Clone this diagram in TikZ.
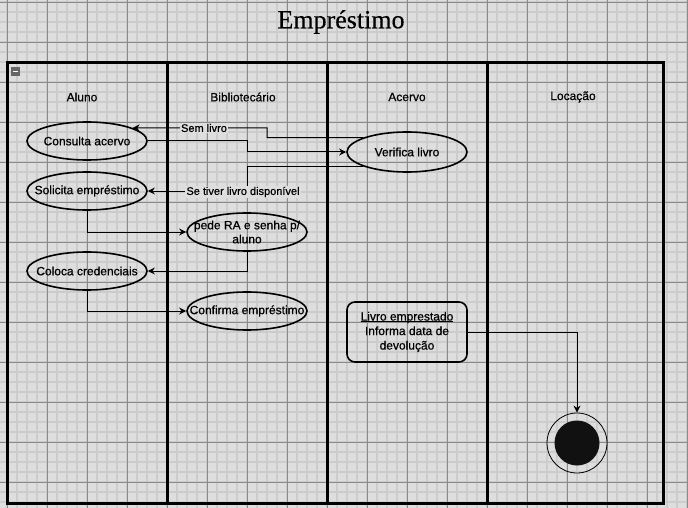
\documentclass[tikz,border=0pt]{standalone}
\usepackage{fontspec}
\setmainfont{Liberation Sans}[FakeBold=0.6]
\newfontfamily\titlefont{Liberation Serif}[FakeBold=0.3]
\usetikzlibrary{shapes.geometric,arrows.meta,positioning}
\definecolor{gridbg}{HTML}{DEDEDE}
\definecolor{gridfine}{HTML}{CCCCCC}
\definecolor{gridbold}{HTML}{8A8A8A}
\definecolor{endfill}{HTML}{111111}
\newcommand{\sublinhado}[1]{{\setbox0\hbox{#1}\rlap{\rule[-1.6pt]{\wd0}{0.8pt}}\box0}}
\tikzset
{
    lane/.style      = {draw=black, line width=3pt},
    actnode/.style   = {ellipse, draw=black, line width=1.6pt, minimum width=120pt, minimum height=38pt, inner sep=0pt},
    actlabel/.style  = {font=\fontsize{12}{14}\selectfont, align=center, inner sep=0pt},
    notebox/.style   = {rectangle, rounded corners=8pt, draw=black, line width=1.6pt, minimum width=120pt, minimum height=60pt, align=center, font=\fontsize{12}{14.5}\selectfont},
    endouter/.style  = {circle, draw=black, line width=0.8pt, minimum size=60pt, inner sep=0pt},
    endinner/.style  = {circle, fill=endfill, minimum size=45pt, inner sep=0pt},
    flow/.style      = {draw=black, line width=1pt, -{Stealth[length=7pt,width=7pt]}},
    guard/.style     = {font=\fontsize{11}{13}\selectfont, fill=gridbg, inner sep=1pt},
    header/.style    = {font=\fontsize{12}{14}\selectfont}
}

\begin{document}
\begin{tikzpicture}[x=1pt, y=-1pt]
	\useasboundingbox (0,0) rectangle (688,508);
	% grid of the canvas
	\fill[gridbg] (0,0) rectangle (688,508);
	\foreach \x in {7,17,...,687} \draw[gridfine, line width=1.2pt] (\x,0) -- (\x,508);
	\foreach \y in {2,12,...,502} \draw[gridfine, line width=1.2pt] (0,\y) -- (688,\y);
	\foreach \x in {7,47,...,687} \draw[gridbold, line width=0.8pt] (\x,0) -- (\x,508);
	\foreach \y in {2,42,...,482} \draw[gridbold, line width=0.8pt] (0,\y) -- (688,\y);

	\node[font=\titlefont\fontsize{26}{30}\selectfont] (titulo) at (341,22) {Empréstimo};

	% pool and lanes
	\draw[lane] (7,63) rectangle (663,503);
	\foreach \x in {167,327,487} \draw[lane] (\x,63) -- (\x,503);
	\fill[gray!80!black] (11,67) rectangle (20,76);
	\draw[white, line width=1.2pt] (13,71.5) -- (18,71.5);

	\node[header] (hAluno) at (82,97) {Aluno};
	\node[header] (hBiblio) at (243,97) {Bibliotecário};
	\node[header] (hAcervo) at (407,97) {Acervo};
	\node[header] (hLocacao) at (573,97) {Locação};

	% activities
	\node[actnode, label={[actlabel]center:Consulta acervo}] (consulta) at (87,141) {};
	\node[actnode, label={[actlabel]center:Solicita empréstimo}] (solicita) at (87,191) {};
	\node[actnode, label={[actlabel]center:pede RA e senha p/\\aluno}] (pede) at (247,232) {};
	\node[actnode, label={[actlabel]center:Coloca credenciais}] (coloca) at (87,271) {};
	\node[actnode, label={[actlabel]center:Confirma empréstimo}] (confirma) at (247,311) {};
	\node[actnode, minimum height=40pt, label={[actlabel]center:Verifica livro}] (verifica) at (407,152) {};
	\node[notebox] (livro) at (407,332) {\sublinhado{Livro emprestado}\\Informa data de\\devolução};
	\node[endouter] (fim) at (577,443) {};
	\node[endinner] (fimcore) at (fim) {};

	% flows
	\draw[flow] (consulta.east) -| (247,152) -- (verifica.west);
	\draw[flow] (verifica.162) -| (267,128) -- (consulta.16.5);
	\draw[flow] (verifica.198) -| (247,191) -- (solicita.east);
	\draw[flow] (solicita.south) |- (pede.west);
	\draw[flow] (pede.south) |- (coloca.east);
	\draw[flow] (coloca.south) |- (confirma.west);
	\draw[flow] (livro.east) -| (fim.north);

	\node[guard] (semlivro) at (204,128) {Sem livro};
	\node[guard] (disponivel) at (243,192) {Se tiver livro disponível};
\end{tikzpicture}
\end{document}
